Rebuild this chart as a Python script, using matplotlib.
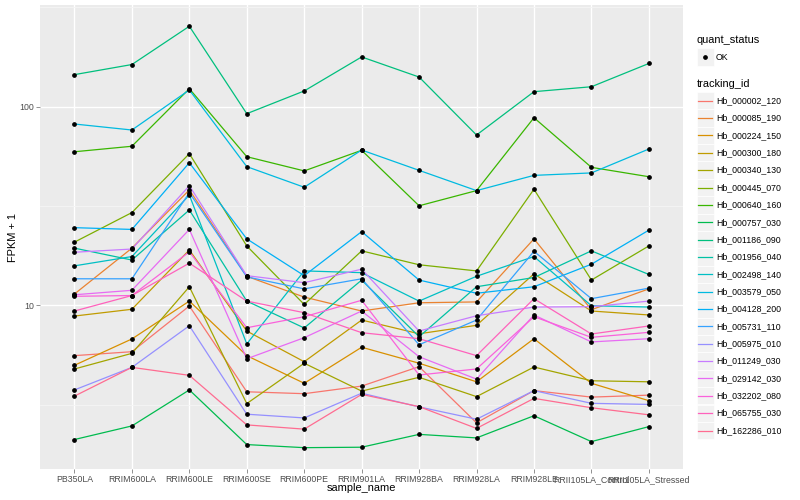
import matplotlib
matplotlib.use("Agg")
import matplotlib.pyplot as plt
from matplotlib.lines import Line2D
from matplotlib.patches import Rectangle
from matplotlib.ticker import FixedLocator, NullFormatter

plt.rcParams['font.family'] = ['Liberation Sans', 'DejaVu Sans']

# samples on the x axis
samples = ['PB350LA', 'RRIM600LA', 'RRIM600LE', 'RRIM600SE', 'RRIM600PE',
           'RRIM901LA', 'RRIM928BA', 'RRIM928LA', 'RRIM928LE',
           'RRII105LA_Control', 'RRII105LA_Stressed']

tracking_ids = ['Hb_000002_120', 'Hb_000085_190', 'Hb_000224_150', 'Hb_000300_180',
                'Hb_000340_130', 'Hb_000445_070', 'Hb_000640_160', 'Hb_000757_030',
                'Hb_001186_090', 'Hb_001956_040', 'Hb_002498_140', 'Hb_003579_050',
                'Hb_004128_200', 'Hb_005731_110', 'Hb_005975_010', 'Hb_011249_030',
                'Hb_029142_030', 'Hb_032202_080', 'Hb_065755_030', 'Hb_162286_010']

# FPKM + 1 per gene, one value per sample
hb_000002_120 = [5.58, 5.84, 9.92, 3.67, 3.59, 3.92, 4.91, 2.56, 3.72, 3.45, 3.53]
hb_000085_190 = [11.4, 19.4, 38.1, 14.0, 11.0, 9.36, 10.3, 10.4, 21.6, 9.50, 12.1]
hb_000224_150 = [4.99, 6.77, 10.5, 5.58, 4.05, 6.15, 5.11, 4.12, 6.79, 4.05, 3.31]
hb_000300_180 = [8.83, 9.55, 19.0, 7.42, 5.20, 8.43, 7.19, 7.93, 14.4, 9.36, 8.94]
hb_000340_130 = [4.78, 5.73, 12.4, 3.20, 5.11, 3.70, 4.34, 3.47, 4.89, 4.17, 4.12]
hb_000445_070 = [20.8, 29.3, 58.0, 19.9, 10.1, 18.8, 16.0, 14.9, 38.4, 13.4, 19.9]
hb_000640_160 = [59.3, 63.2, 123.2, 56.0, 47.5, 60.3, 31.7, 37.8, 88.0, 49.5, 44.4]
hb_000757_030 = [2.11, 2.47, 3.75, 1.99, 1.92, 1.93, 2.24, 2.15, 2.78, 2.06, 2.45]
hb_001186_090 = [145, 163, 254, 92.2, 120, 178, 141, 72.0, 119, 126, 165]
hb_001956_040 = [19.4, 16.9, 30.2, 10.5, 7.69, 13.4, 6.95, 12.4, 13.8, 18.8, 14.3]
hb_002498_140 = [15.8, 17.6, 35.9, 6.39, 14.9, 14.6, 10.5, 14.0, 17.6, 9.95, 9.80]
hb_003579_050 = [81.8, 76.3, 121.4, 49.9, 39.3, 60.5, 47.8, 37.8, 45.1, 46.4, 61.2]
hb_004128_200 = [24.6, 24.1, 52.2, 21.6, 14.1, 23.5, 13.4, 11.5, 12.4, 16.1, 23.9]
hb_005731_110 = [13.6, 13.6, 36.9, 13.9, 12.1, 13.6, 6.33, 8.43, 18.7, 10.8, 12.2]
hb_005975_010 = [3.75, 4.87, 7.89, 2.83, 2.71, 3.61, 3.08, 2.67, 3.72, 3.21, 3.17]
hb_011249_030 = [18.5, 19.2, 40.0, 14.1, 13.0, 15.2, 7.42, 8.86, 9.80, 9.84, 10.5]
hb_029142_030 = [11.3, 11.9, 24.1, 5.38, 6.87, 9.36, 5.51, 4.25, 8.94, 6.54, 6.79]
hb_032202_080 = [11.1, 11.2, 18.6, 7.71, 8.76, 10.6, 4.46, 4.78, 8.76, 6.90, 7.31]
hb_065755_030 = [9.36, 11.2, 16.3, 10.5, 9.18, 7.28, 6.79, 5.58, 10.8, 7.17, 7.87]
hb_162286_010 = [3.49, 4.87, 4.44, 2.50, 2.38, 3.56, 3.09, 2.40, 3.40, 3.05, 2.81]

series = [hb_000002_120, hb_000085_190, hb_000224_150, hb_000300_180, hb_000340_130,
          hb_000445_070, hb_000640_160, hb_000757_030, hb_001186_090, hb_001956_040,
          hb_002498_140, hb_003579_050, hb_004128_200, hb_005731_110, hb_005975_010,
          hb_011249_030, hb_029142_030, hb_032202_080, hb_065755_030, hb_162286_010]

# ggplot default hue palette for 20 groups
colours = ['#F8766D', '#EA8331', '#D89000', '#C09B00', '#A3A500', '#7CAE00', '#39B600',
           '#00BB4E', '#00BF7D', '#00C1A3', '#00BFC4', '#00BAE0', '#00B0F6', '#35A2FF',
           '#9590FF', '#C77CFF', '#E76BF3', '#FA62DB', '#FF62BC', '#FF6C91']

W, H = 800, 500
fig = plt.figure(figsize=(W / 100, H / 100), dpi=100)
px_l, px_r, px_t, px_b = 40, 683.3, 5.2, 468.8
ax = fig.add_axes([px_l / W, 1 - px_b / H, (px_r - px_l) / W, (px_b - px_t) / H])
ax.set_facecolor('#EBEBEB')
for s in ax.spines.values():
    s.set_visible(False)

x = list(range(len(samples)))
for vals, col in zip(series, colours):
    ax.plot(x, vals, color=col, lw=0.9, zorder=3)
for vals in series:
    ax.plot(x, vals, ls='none', marker='o', ms=2.4, mfc='black', mec='black', zorder=4)

ax.set_yscale('log')
ax.set_ylim(10 ** 0.1769, 10 ** 2.5109)
ax.set_xlim(-0.6, len(samples) - 0.4)
ax.yaxis.set_major_locator(FixedLocator([10, 100]))
ax.yaxis.set_major_formatter(plt.FixedFormatter(['10', '100']))
ax.yaxis.set_minor_locator(FixedLocator([10 ** 0.5, 10 ** 1.5, 10 ** 2.5]))
ax.yaxis.set_minor_formatter(NullFormatter())
ax.set_xticks(x)
ax.set_xticklabels(samples)
ax.grid(True, which='major', color='white', lw=1.0, zorder=0)
ax.grid(True, which='minor', axis='y', color='#F5F5F5', lw=0.6, zorder=0)
ax.set_axisbelow(True)
ax.tick_params(axis='both', which='major', length=3, width=0.6, color='#7F7F7F',
               labelsize=6.3, labelcolor='#4D4D4D', pad=1.5)
ax.tick_params(axis='y', which='minor', length=0)

fig.text((px_l + px_r) / 2 / W, 1 - 488 / H, 'sample_name', ha='center', va='center', fontsize=7.9)
fig.text(13 / W, 1 - (px_t + px_b) / 2 / H, 'FPKM + 1', ha='center', va='center',
         rotation=90, fontsize=7.9)

# legends drawn on the right, ggplot style
def fx(px):
    return px / W

def fy(py):
    return 1 - py / H

key = 17.3
lx = 696.7
fig.text(fx(lx), fy(40), 'quant_status', ha='left', va='center', fontsize=7.9)
fig.add_artist(Rectangle((fx(lx), fy(57 + key / 2)), key / W, key / H,
                         transform=fig.transFigure, fc='#F2F2F2', ec='white', lw=0.5))
fig.add_artist(Line2D([fx(lx + key / 2)], [fy(57)], transform=fig.transFigure,
                      ls='none', marker='o', ms=2.4, color='black'))
fig.text(fx(716), fy(57), 'OK', ha='left', va='center', fontsize=6.3)

fig.text(fx(lx), fy(84.3), 'tracking_id', ha='left', va='center', fontsize=7.9)
for i, (tid, col) in enumerate(zip(tracking_ids, colours)):
    cy = 100.7 + 17.36 * i
    fig.add_artist(Rectangle((fx(lx), fy(cy + key / 2)), key / W, key / H,
                             transform=fig.transFigure, fc='#F2F2F2', ec='white', lw=0.5))
    fig.add_artist(Line2D([fx(lx + 1.7), fx(lx + key - 1.7)], [fy(cy), fy(cy)],
                          transform=fig.transFigure, color=col, lw=0.9))
    fig.text(fx(716.7), fy(cy), tid, ha='left', va='center', fontsize=6.3)

fig.savefig('out.png', dpi=100)
